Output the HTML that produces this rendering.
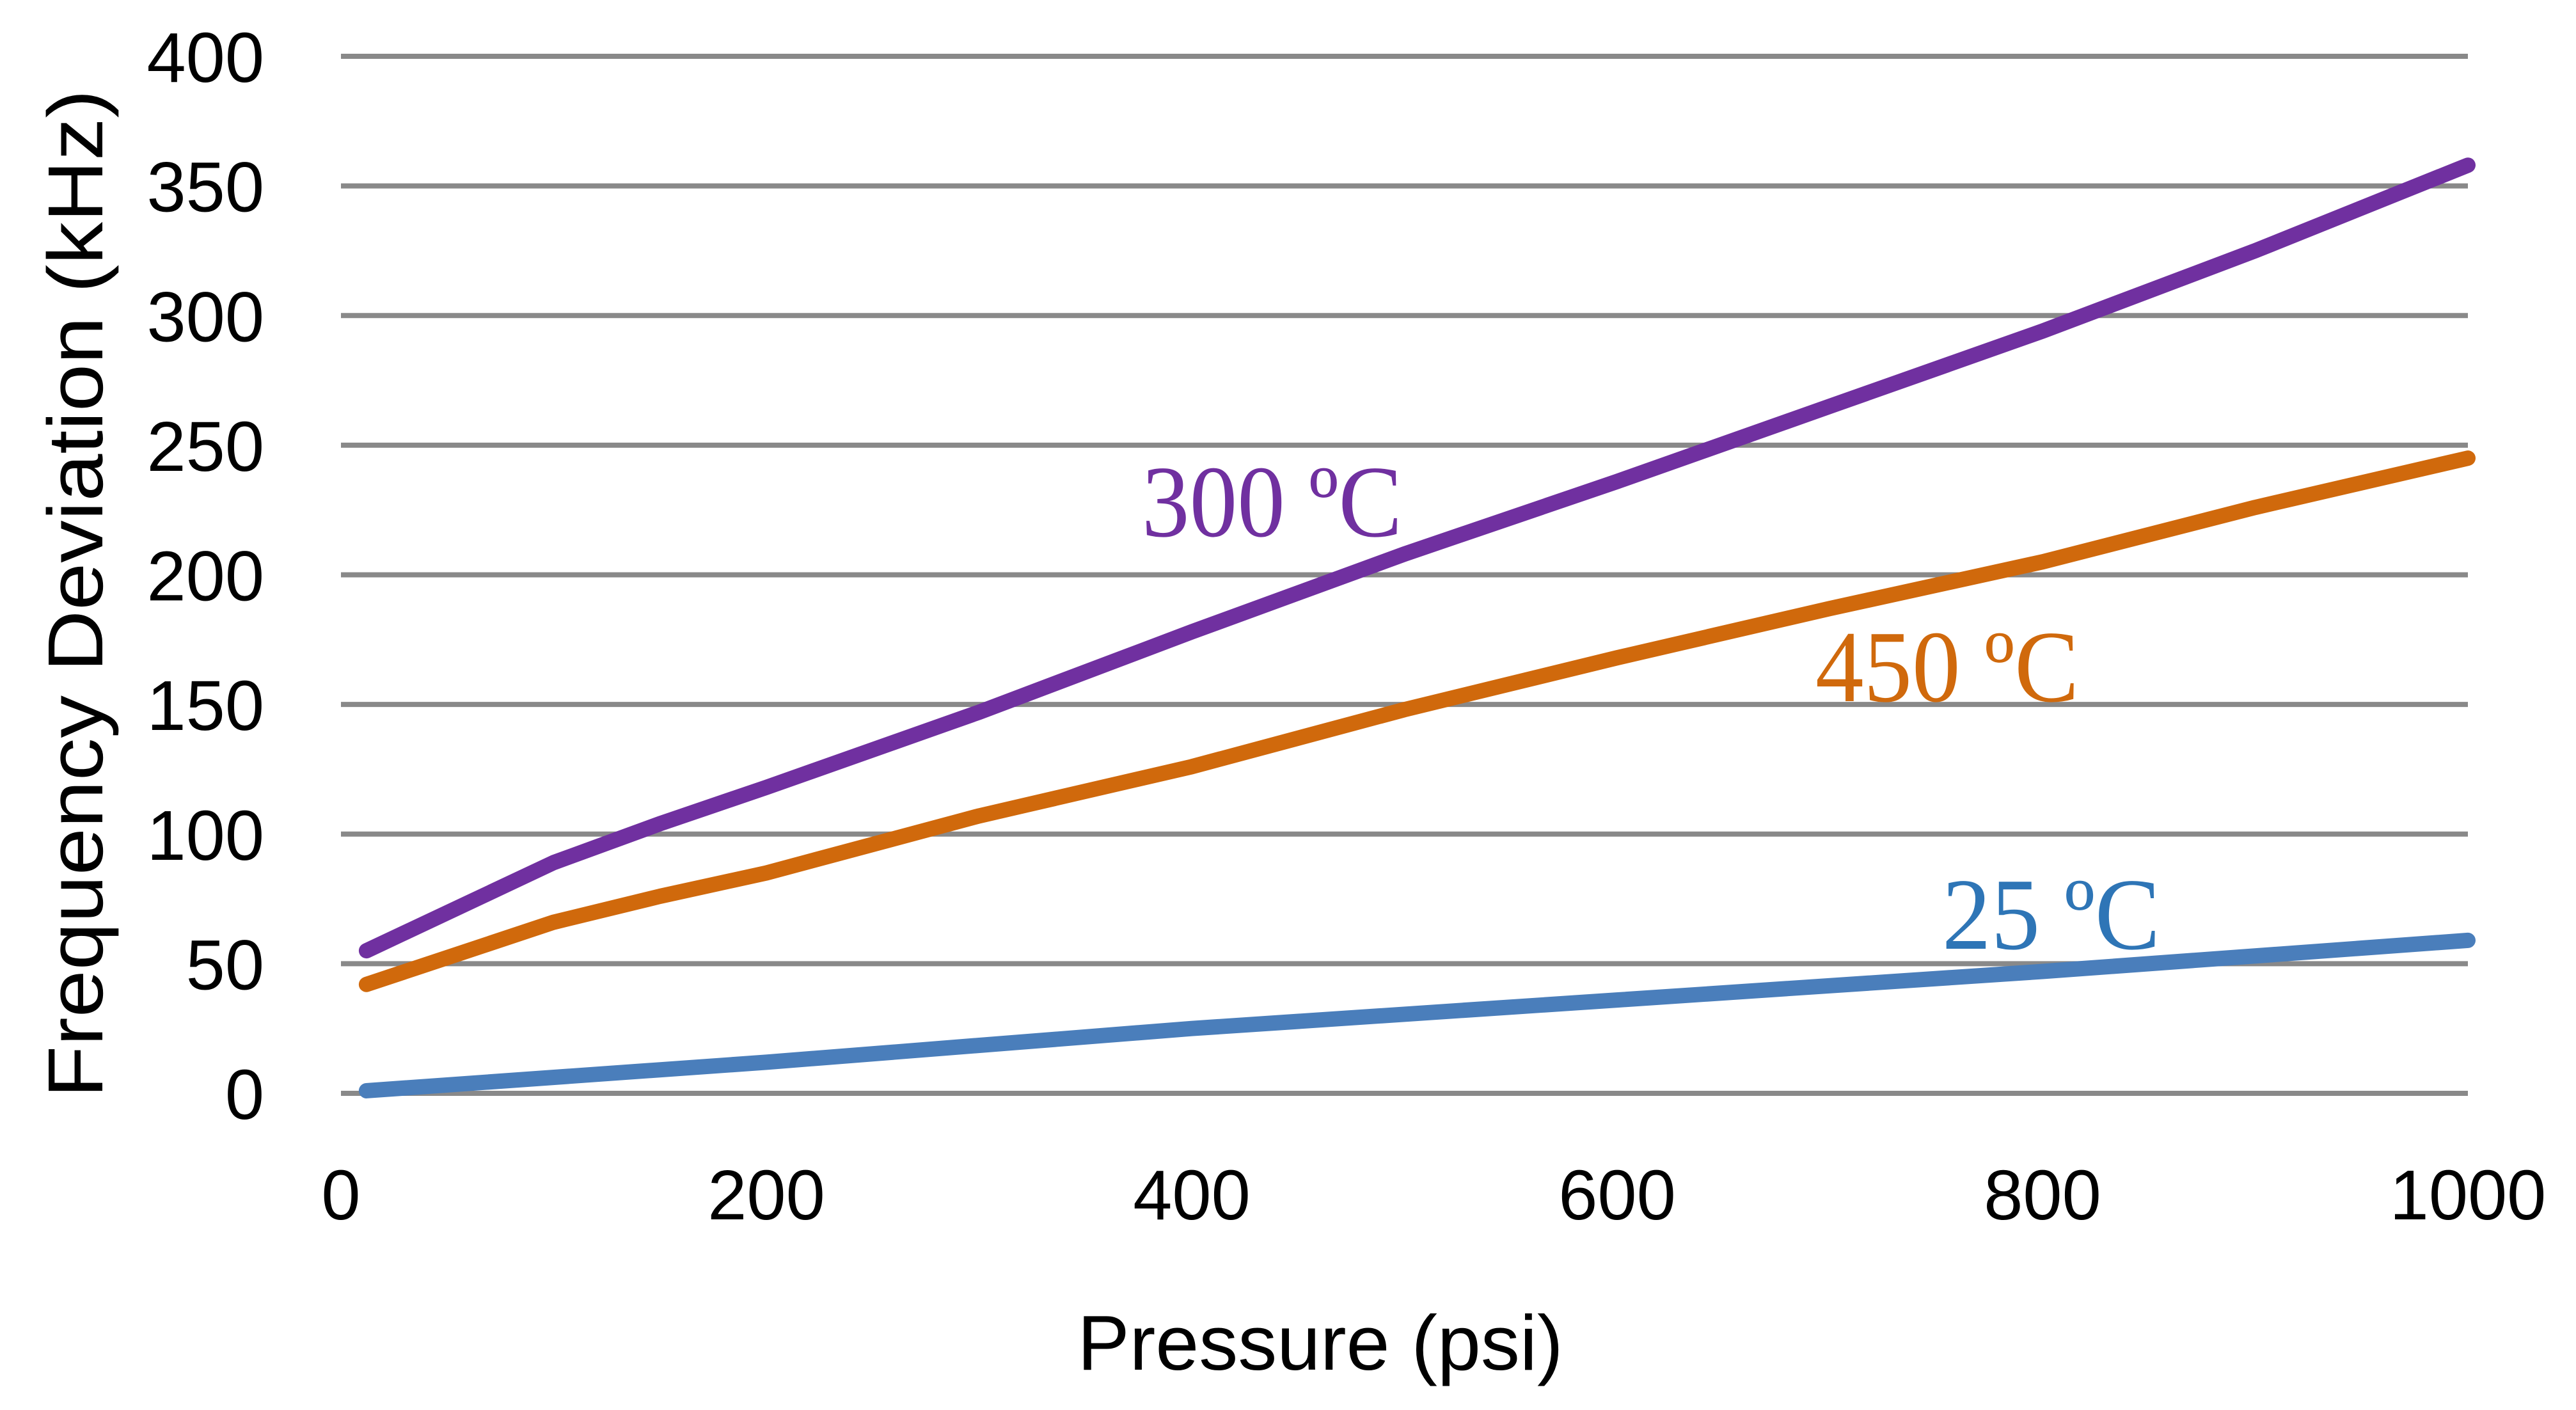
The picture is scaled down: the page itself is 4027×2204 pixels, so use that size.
<!DOCTYPE html>
<html><head><meta charset="utf-8"><style>
html,body{margin:0;padding:0;background:#fff;}
svg{display:block;}
</style></head><body>
<svg id="chart" width="4027" height="2204" viewBox="0 0 4027 2204" xmlns="http://www.w3.org/2000/svg">
<g id="grid"></g>
<g id="yticks"></g>
<g id="xticks"></g>
<g id="series"></g>
<text transform="translate(160,928) rotate(-90)" text-anchor="middle" font-family="Liberation Sans, sans-serif" font-size="122" textLength="1576" lengthAdjust="spacingAndGlyphs">Frequency Deviation (kHz)</text>
<text x="2064" y="2141" text-anchor="middle" font-family="Liberation Sans, sans-serif" font-size="122">Pressure (psi)</text>
<text x="1785" y="838" font-family="Liberation Serif, serif" font-size="160" fill="#7030A0" textLength="407" lengthAdjust="spacingAndGlyphs">300 ºC</text>
<text x="2838" y="1096" font-family="Liberation Serif, serif" font-size="160" fill="#D0690C" textLength="412" lengthAdjust="spacingAndGlyphs">450 ºC</text>
<text x="3036" y="1483" font-family="Liberation Serif, serif" font-size="160" fill="#2E75B6" textLength="341" lengthAdjust="spacingAndGlyphs">25 ºC</text>
</svg>
<script>
const yTicks = [0,50,100,150,200,250,300,350,400];
const xTicks = [0,200,400,600,800,1000];
const xP300 = [12,100,150,200,300,400,500,600,700,800,900,1000];
const yP300 = [55,89,104,118,147,178,208,236,265,294,325,358];
const xP450 = [12,100,150,200,300,400,500,600,700,800,900,1000];
const yP450 = [42,66,76,85,107,126,148,168,187,205,226,245];
const xP25 = [12,200,400,600,800,1000];
const yP25 = [1,12,25,36,47,59];

const NS='http://www.w3.org/2000/svg';
const X0=533,X1=3858,Y0=1709,Y1=88;
function sx(v){return X0+(v-0)/(1000-0)*(X1-X0);}
function sy(v){return Y0-(v-0)/(400-0)*(Y0-Y1);}
const grid=document.getElementById('grid'),yt=document.getElementById('yticks'),xt=document.getElementById('xticks'),ser=document.getElementById('series');
yTicks.forEach(t=>{
  const l=document.createElementNS(NS,'line');
  
  
  l.setAttribute('x1',X0);l.setAttribute('x2',X1);l.setAttribute('y1',sy(t));l.setAttribute('y2',sy(t));
  l.setAttribute('stroke','#898989');l.setAttribute('stroke-width','8');
  grid.appendChild(l);
  const tx=document.createElementNS(NS,'text');
  
  
  tx.setAttribute('x',413);tx.setAttribute('y',sy(t)+40);
  tx.setAttribute('text-anchor','end');tx.setAttribute('font-family','Liberation Sans, sans-serif');tx.setAttribute('font-size','110');
  tx.textContent=t;yt.appendChild(tx);
});
xTicks.forEach(t=>{
  const tx=document.createElementNS(NS,'text');
  
  
  tx.setAttribute('x',sx(t));tx.setAttribute('y',1906);
  tx.setAttribute('text-anchor','middle');tx.setAttribute('font-family','Liberation Sans, sans-serif');tx.setAttribute('font-size','110');
  tx.textContent=t;xt.appendChild(tx);
});
function drawLine(xs,ys,color,name){
  const p=document.createElementNS(NS,'polyline');
  
  
  p.setAttribute('points',xs.map((x,i)=>sx(x)+','+sy(ys[i])).join(' '));
  p.setAttribute('fill','none');p.setAttribute('stroke',color);p.setAttribute('stroke-width','24');
  p.setAttribute('stroke-linecap','round');p.setAttribute('stroke-linejoin','round');
  ser.appendChild(p);
}
drawLine(xP25,yP25,'#4A7EBB','line-25c');
drawLine(xP450,yP450,'#D0690C','line-450c');
drawLine(xP300,yP300,'#7030A0','line-300c');
</script>
</body></html>
